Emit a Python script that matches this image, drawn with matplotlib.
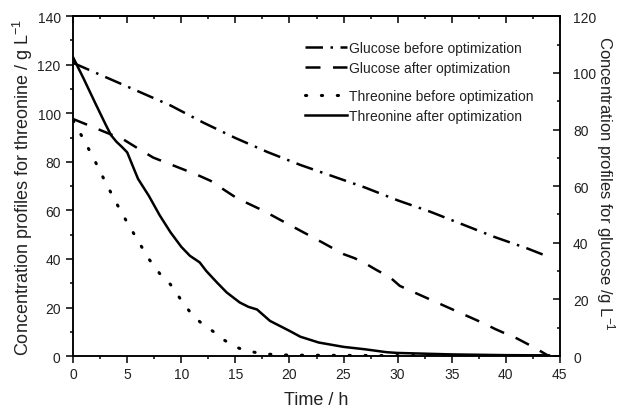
import matplotlib
matplotlib.use("Agg")
from matplotlib import pyplot as plt
from matplotlib.ticker import MultipleLocator

# time (h) and concentrations
t_glc_before = [0, 3, 6, 9, 10, 12, 15, 18, 21, 24, 27, 30, 33, 36, 39, 42, 44]
glc_before = [103.5, 98.5, 93.5, 88.5, 86.5, 82.5, 77, 72, 67.5, 63.5, 59.5,
              55, 51, 46.5, 42, 38, 35]

t_glc_after = [0, 2, 3.4, 4.6, 6, 7.4, 9, 11, 11.7, 12.7, 14, 15, 16, 17.6, 19,
               21, 23, 25, 26, 26.8, 28, 29.3, 30.2, 32, 34, 36, 38, 39, 40,
               41, 42, 43, 44]
glc_after = [83.7, 80.6, 78.4, 76.6, 73.3, 70.1, 67.7, 64.7, 63.6, 61.9, 58.6,
             56.1, 54.2, 51.3, 48.4, 44.3, 40.2, 36, 34.6, 33.2, 30.5, 27.8,
             24.8, 21.7, 18.3, 14.9, 11.5, 9.6, 7.9, 6.3, 4.3, 2.2, 0]

t_thr_before = [0, 1, 2, 3, 4, 5, 6, 7, 8, 9, 10, 11, 12, 13, 14, 15, 16, 17,
                18, 20, 25, 30, 35, 40, 44]
thr_before = [97, 89, 80.5, 71.5, 63, 55, 47.5, 40, 34, 29.5, 23, 17, 13, 10,
              6.5, 3.8, 2.2, 1.4, 0.8, 0.4, 0.3, 0.2, 0.2, 0.2, 0.2]

t_thr_after = [0, 1, 2, 3, 3.5, 4, 4.5, 5, 5.5, 6, 6.5, 7, 8, 9, 10, 10.8, 11.7,
               12.3, 13.3, 14.2, 15.4, 16.2, 17, 18.2, 20, 21, 22.7, 25, 27, 29,
               30, 35, 40, 44]
thr_after = [123, 114, 104.6, 95.4, 91, 88.3, 86.2, 83.9, 78.4, 73, 69.5, 66,
             58, 51, 45, 41.3, 38.6, 35.1, 30.3, 26.2, 22.1, 20.3, 19.2, 14.5,
             10.4, 8, 5.6, 3.8, 2.8, 1.6, 1.3, 0.7, 0.4, 0.3]

plt.rcParams['font.family'] = ['Liberation Sans', 'DejaVu Sans']
plt.rcParams['mathtext.default'] = 'regular'
txt = '#222222'
lw = 1.8

fig, ax1 = plt.subplots(figsize=(6.2, 4.1), dpi=100)
fig.subplots_adjust(left=0.118, right=0.903, bottom=0.129, top=0.958)
ax2 = ax1.twinx()

# threonine on the left axis, glucose on the right axis
l_thr_b, = ax1.plot(t_thr_before, thr_before, color='black', lw=2.2,
                    dashes=(0.4, 4.8), dash_capstyle='round')
l_thr_a, = ax1.plot(t_thr_after, thr_after, color='black', lw=lw,
                    solid_joinstyle='round')
l_glc_b, = ax2.plot(t_glc_before, glc_before, color='black', lw=lw,
                    dashes=(7, 3, 1, 3), dash_capstyle='butt')
l_glc_a, = ax2.plot(t_glc_after, glc_after, color='black', lw=lw,
                    dashes=(6, 5), dash_capstyle='butt')

ax1.set_xlim(0, 45)
ax1.set_ylim(0, 140)
ax2.set_ylim(0, 120)
ax1.xaxis.set_major_locator(MultipleLocator(5))
ax1.xaxis.set_minor_locator(MultipleLocator(2.5))
ax1.yaxis.set_major_locator(MultipleLocator(20))
ax1.yaxis.set_minor_locator(MultipleLocator(10))
ax2.yaxis.set_major_locator(MultipleLocator(20))
ax2.yaxis.set_minor_locator(MultipleLocator(10))

for a in (ax1, ax2):
    for s in a.spines.values():
        s.set_linewidth(1.1)
        s.set_color('black')

ax1.tick_params(which='major', direction='out', length=5, width=1.1,
                labelsize=10, labelcolor=txt, pad=3)
ax1.tick_params(axis='y', pad=4)
ax1.tick_params(which='minor', direction='out', length=2.5, width=1.1)
ax2.tick_params(which='major', direction='in', length=5, width=1.1,
                labelsize=10, labelcolor=txt, pad=9.5)
ax2.tick_params(which='minor', direction='in', length=2.5, width=1.1)

top = ax1.secondary_xaxis('top')
top.xaxis.set_major_locator(MultipleLocator(5))
top.xaxis.set_minor_locator(MultipleLocator(2.5))
top.tick_params(which='major', direction='in', length=5, width=1.1, labeltop=False)
top.tick_params(which='minor', direction='in', length=2.5, width=1.1)
top.spines['top'].set_linewidth(1.1)

ax1.set_xlabel('Time / h', fontsize=13, color=txt, labelpad=7)
ax1.set_ylabel('Concentration profiles for threonine / g L$^{-1}$',
               fontsize=13, color=txt, labelpad=2)
ax2.set_ylabel('Concentration profiles for glucose /g L$^{-1}$',
               fontsize=12, color=txt, rotation=270, labelpad=13)
ax2.yaxis.set_label_coords(1.118, 0.51)

leg_kw = dict(loc='upper left', frameon=False, fontsize=10, handlelength=3.0,
              handletextpad=0.15, labelspacing=0.45, borderpad=0,
              borderaxespad=0, labelcolor=txt)
leg1 = ax2.legend([l_glc_b, l_glc_a],
                  ['Glucose before optimization', 'Glucose after optimization'],
                  bbox_to_anchor=(0.492, 0.898), bbox_transform=fig.transFigure,
                  **leg_kw)
ax2.add_artist(leg1)
ax2.legend([l_thr_b, l_thr_a],
           ['Threonine before optimization', 'Threonine after optimization'],
           bbox_to_anchor=(0.492, 0.781), bbox_transform=fig.transFigure,
           **leg_kw)

fig.savefig('out.png', dpi=100)
